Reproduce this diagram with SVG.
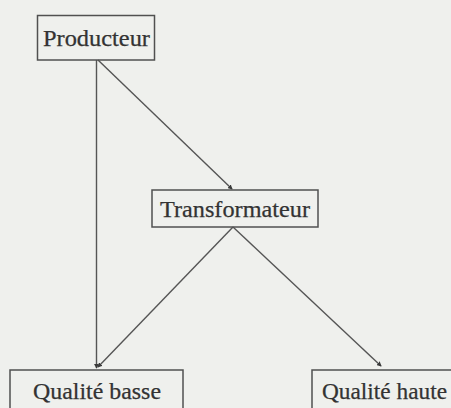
<svg xmlns="http://www.w3.org/2000/svg" width="451" height="408" viewBox="0 0 451 408">
<defs>
<style>
.box{fill:none;stroke:#505050;stroke-width:1.5}
.lbl{font-family:"Liberation Serif","Times New Roman",serif;font-size:23px;fill:#333;stroke:#333;stroke-width:0.25}
.edge{fill:none;stroke:#555;stroke-width:1.4}
</style>
<marker id="ah" viewBox="0 0 6 6" refX="5" refY="3" markerWidth="5" markerHeight="5" orient="auto" markerUnits="userSpaceOnUse">
<path d="M0,0 L6,3 L0,6 z" fill="#3a3a3a"/>
</marker>
</defs>
<rect width="451" height="408" fill="#eff0ed"/>
<g id="connectors">
<line class="edge" x1="96.5" y1="60" x2="96.5" y2="368" marker-end="url(#ah)"/>
<line class="edge" x1="98" y1="60" x2="232" y2="189" marker-end="url(#ah)"/>
<line class="edge" x1="233" y1="227" x2="98" y2="367" marker-end="url(#ah)"/>
<line class="edge" x1="233" y1="227" x2="381" y2="366" marker-end="url(#ah)"/>
</g>
<g id="producteur">
<rect class="box" x="37.5" y="15.5" width="117" height="44.5"/>
<text class="lbl" x="43" y="46" textLength="107" lengthAdjust="spacingAndGlyphs">Producteur</text>
</g>
<g id="transformateur">
<rect class="box" x="152" y="190" width="166" height="37"/>
<text class="lbl" x="160" y="217" textLength="150" lengthAdjust="spacingAndGlyphs">Transformateur</text>
</g>
<g id="qualite-basse">
<rect class="box" x="10" y="370" width="173" height="45"/>
<text class="lbl" x="33" y="399" textLength="128" lengthAdjust="spacingAndGlyphs">Qualité basse</text>
</g>
<g id="qualite-haute">
<rect class="box" x="312" y="370" width="150" height="45"/>
<text class="lbl" x="322" y="399" textLength="125" lengthAdjust="spacingAndGlyphs">Qualité haute</text>
</g>
</svg>
